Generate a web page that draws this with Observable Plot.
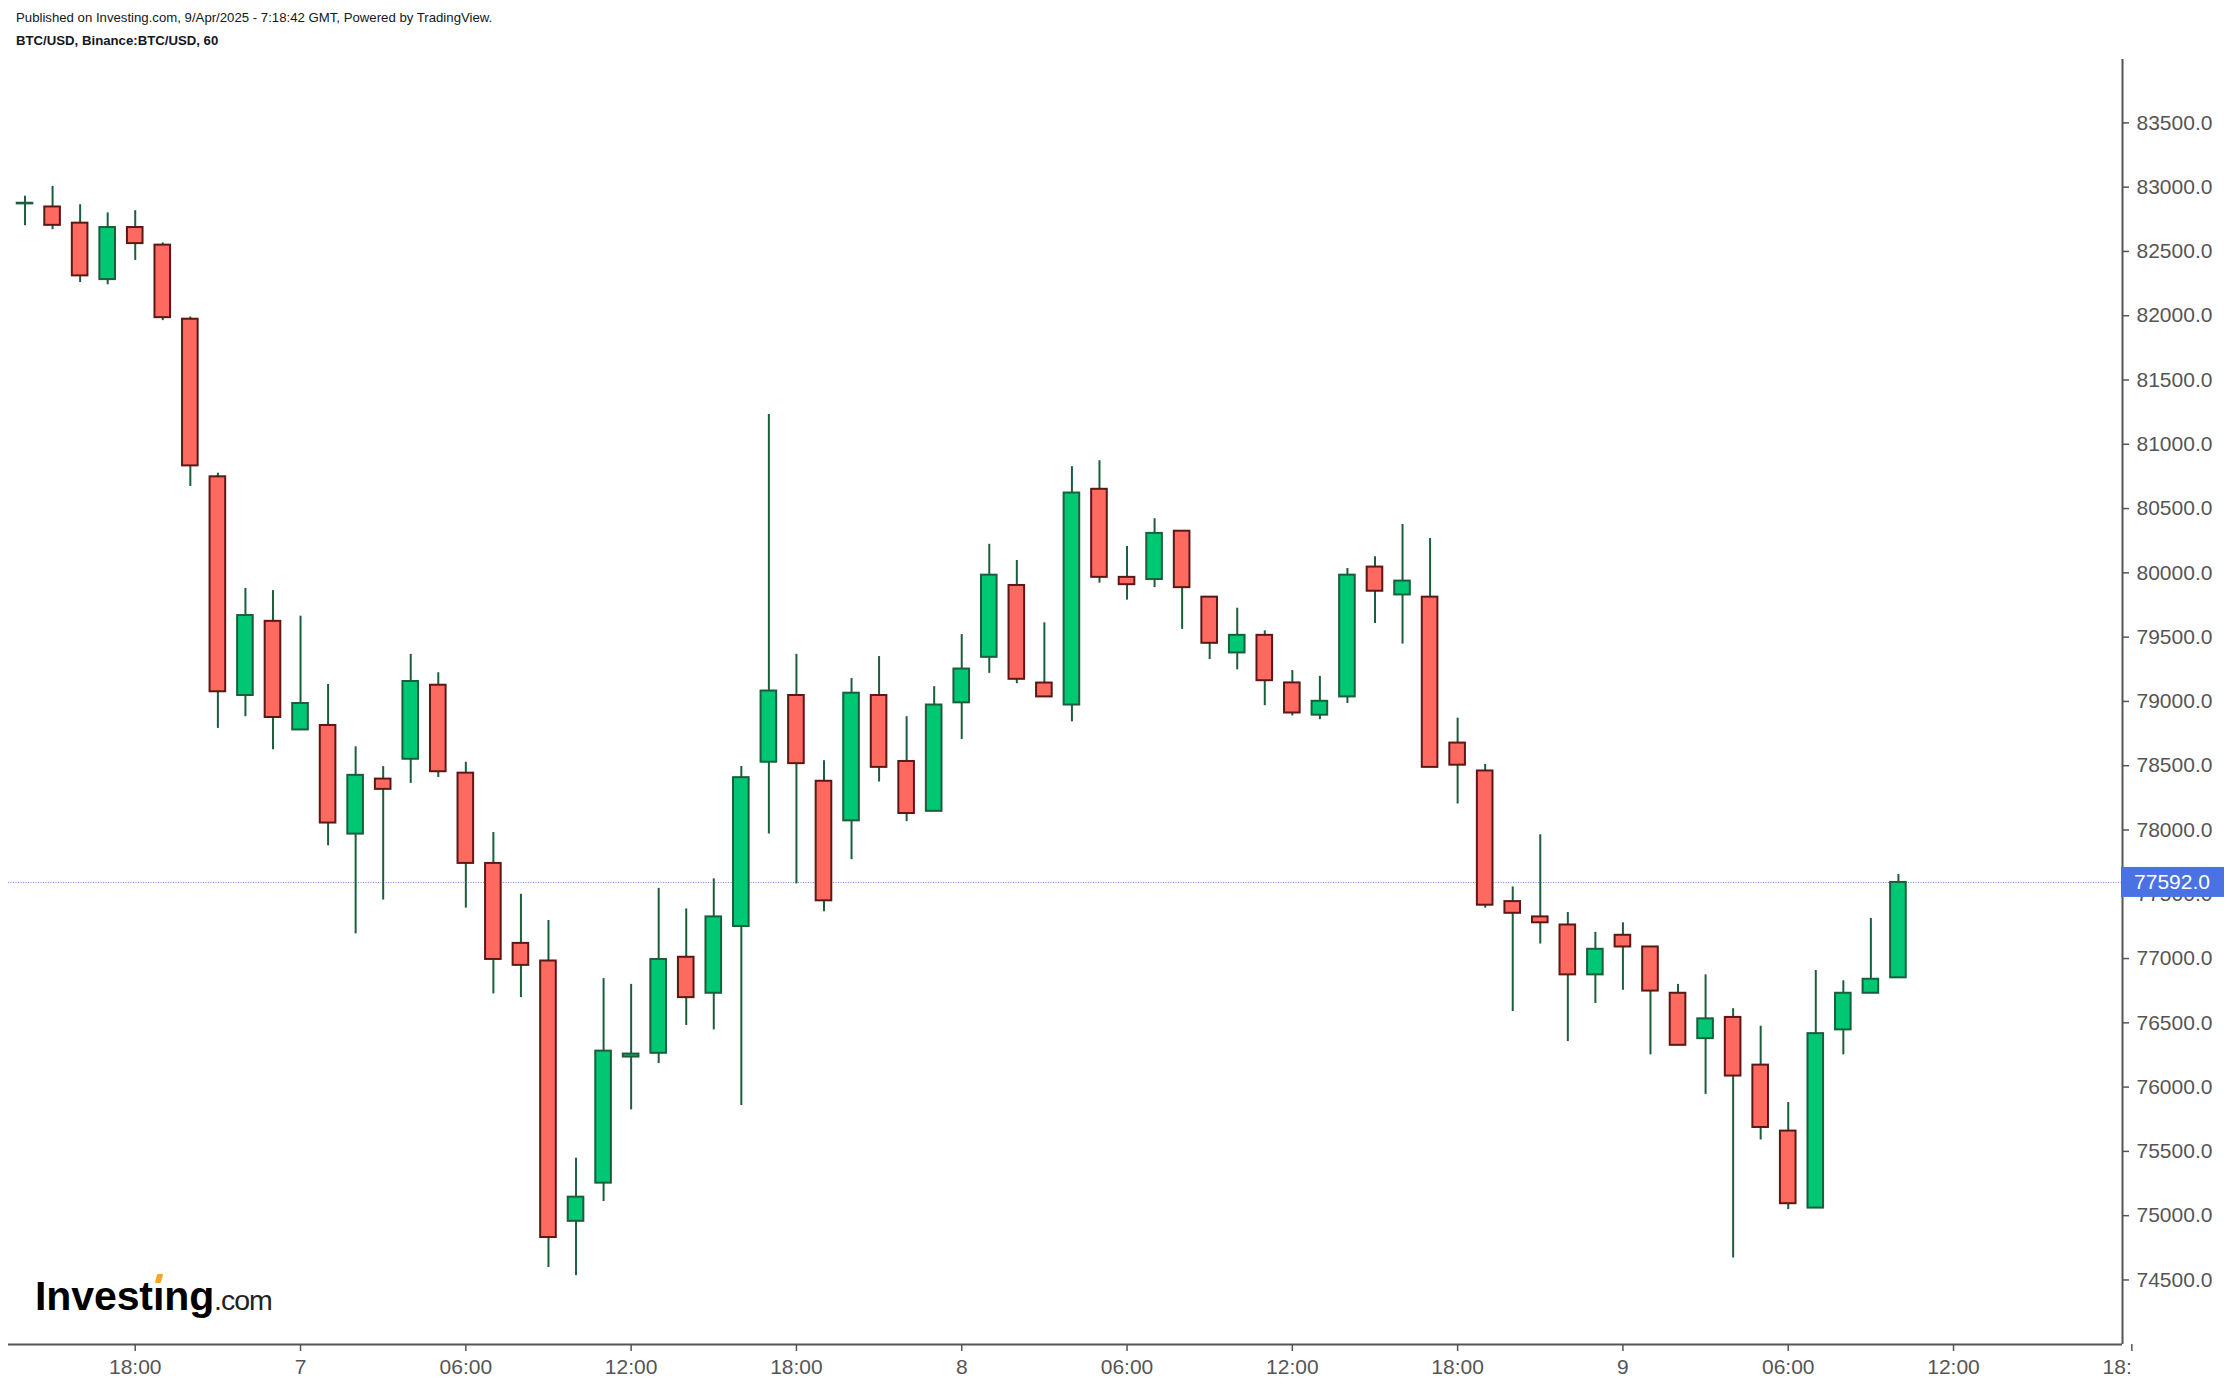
<!DOCTYPE html>
<html>
<head>
<meta charset="utf-8">
<script src="https://cdn.jsdelivr.net/npm/d3@7"></script>
<script src="https://cdn.jsdelivr.net/npm/@observablehq/plot@0.6"></script>
<style>
html, body { margin: 0; padding: 0; background: #fff; }
#wrap { position: relative; width: 2230px; height: 1386px; overflow: hidden; font-family: "Liberation Sans", Arial, sans-serif; }
#chart { position: absolute; left: 0; top: 0; }
.hdr { position: absolute; left: 16px; font-size: 13.2px; line-height: 1; color: #131722; white-space: nowrap; }
#pub { top: 10.5px; }
#sym { top: 34px; font-weight: bold; }
#logo { position: absolute; left: 35px; top: 1276px; white-space: nowrap; line-height: 1; color: #000; }
#logo .big { font-size: 41px; font-weight: bold; letter-spacing: -0.1px; }
#logo .small { font-size: 28.5px; letter-spacing: -1px; color: #222; }
#accent { position: absolute; left: 156px; top: 1274px; width: 6px; height: 9px; background: #f5a623; transform: skewX(-15deg); border-radius: 1px; }
</style>
</head>
<body>
<div id="wrap">
  <div id="chart"></div>
  <div class="hdr" id="pub">Published on Investing.com, 9/Apr/2025 - 7:18:42 GMT, Powered by TradingView.</div>
  <div class="hdr" id="sym">BTC/USD, Binance:BTC/USD, 60</div>
  <div id="logo"><span class="big">Investıng</span><span class="small">.com</span></div>
  <div id="accent"></div>
</div>
<script>
// ---- data (hourly candles, BTC/USD, Binance) ----
const firstCandle = "2025-04-06T14:00:00Z";
const opens  = [82870, 82846, 82720, 82281, 82686, 82549, 81973, 80747, 79046, 79623,
                78778, 78813, 77968, 78396, 78550, 79126, 78442, 77740, 77118, 76981,
                74956, 75253, 76234, 76263, 77010, 76730, 77249, 78527, 79046, 78379,
                78071, 79046, 78533, 78145, 78989, 79343, 79902, 79143, 78972, 80650,
                79965, 79948, 80324, 79811, 79377, 79514, 79144, 78893, 79035, 80045,
                79828, 79811, 78676, 78459, 77443, 77324, 77261, 76873, 77181, 77090,
                76730, 76377, 76542, 76171, 75658, 75059, 76445, 76730, 76850];
const highs  = [82930, 83006, 82863, 82800, 82817, 82566, 81990, 80775, 79879, 79862,
                79663, 79132, 78647, 78493, 79366, 79223, 78527, 77980, 77500, 77295,
                75447, 76844, 76799, 77546, 77386, 77620, 78493, 81231, 79366, 78539,
                79178, 79349, 78881, 79115, 79520, 80222, 80096, 79611, 80826, 80872,
                80205, 80421, 80324, 79811, 79725, 79549, 79240, 79195, 80034, 80125,
                80376, 80267, 78870, 78510, 77557, 77963, 77358, 77204, 77278, 77090,
                76799, 76873, 76610, 76474, 75880, 76907, 76827, 77312, 77654];
const lows   = [82700, 82669, 82258, 82241, 82430, 81962, 80672, 78790, 78881, 78624,
                78778, 77877, 77192, 77455, 78362, 78408, 77392, 76725, 76696, 74596,
                74534, 75110, 75823, 76183, 76479, 76445, 75857, 77968, 77580, 77364,
                77769, 78373, 78065, 78145, 78704, 79218, 79138, 79035, 78841, 79920,
                79788, 79885, 79560, 79326, 79246, 78967, 78887, 78858, 78984, 79606,
                79446, 78487, 78202, 77392, 76588, 77113, 76354, 76650, 76753, 76251,
                76325, 75943, 74671, 75589, 75047, 75059, 76251, 76730, 76850];
const closes = [82875, 82703, 82310, 82686, 82561, 81985, 80832, 79075, 79668, 78875,
                78984, 78054, 78425, 78316, 79155, 78453, 77740, 76993, 76947, 74830,
                75144, 76280, 76257, 76993, 76696, 77324, 78407, 79081, 78516, 77449,
                79064, 78487, 78128, 78972, 79252, 79982, 79172, 79035, 80621, 79965,
                79908, 80307, 79885, 79452, 79514, 79161, 78910, 79001, 79982, 79857,
                79936, 78487, 78504, 77415, 77352, 77278, 76873, 77072, 77090, 76747,
                76325, 76531, 76086, 75686, 75093, 76416, 76730, 76839, 77592];
const lastPrice = 77592;
const yTicks = [74500, 75000, 75500, 76000, 76500, 77000, 77500, 78000, 78500, 79000,
                79500, 80000, 80500, 81000, 81500, 82000, 82500, 83000, 83500];
const xTickTimes = ["2025-04-06T18:00Z", "2025-04-07T00:00Z", "2025-04-07T06:00Z", "2025-04-07T12:00Z",
                    "2025-04-07T18:00Z", "2025-04-08T00:00Z", "2025-04-08T06:00Z", "2025-04-08T12:00Z",
                    "2025-04-08T18:00Z", "2025-04-09T00:00Z", "2025-04-09T06:00Z", "2025-04-09T12:00Z"];
const xClippedTick = "2025-04-09T18:00Z";
const xDomain = ["2025-04-06T13:24Z", "2025-04-09T18:08Z"];
const yDomain = [73998, 83993];

// ---- build table ----
const t0 = new Date(firstCandle);
const times = d3.utcHour.range(t0, d3.utcHour.offset(t0, opens.length));
const candles = times.map((date, i) => ({date, open: opens[i], high: highs[i], low: lows[i], close: closes[i]}));

const GREEN = "#00c774", RED = "#ff6a60", GREEN_EDGE = "#1b5e3c", RED_EDGE = "#5b1816", WICK = "#1b5e3c";
const fmtX = d => d.getUTCHours() === 0 ? String(d.getUTCDate()) : d3.utcFormat("%H:%M")(d);

const chart = Plot.plot({
  width: 2230,
  height: 1386,
  marginLeft: 8,
  marginRight: 108,
  marginTop: 59,
  marginBottom: 42,
  style: {fontFamily: "'Liberation Sans', Arial, sans-serif", fontSize: "21px", color: "#555", background: "#fff", overflow: "visible"},
  x: {type: "utc", domain: xDomain.map(s => new Date(s))},
  y: {domain: yDomain},
  marks: [
    Plot.ruleY([lastPrice], {stroke: "#6a8ae8", strokeWidth: 1, strokeDasharray: "1,1.5"}),
    Plot.ruleX(candles, {x: "date", y1: "low", y2: "high", stroke: WICK, strokeWidth: 2}),
    Plot.rect(candles, {
      x1: d => d3.utcMinute.offset(d.date, -17),
      x2: d => d3.utcMinute.offset(d.date, 17),
      y1: "open", y2: "close",
      fill: d => d.close >= d.open ? GREEN : RED,
      stroke: d => d.close >= d.open ? GREEN_EDGE : RED_EDGE,
      strokeWidth: 2
    }),
    Plot.ruleY([yDomain[0]], {stroke: "#555", strokeWidth: 2}),
    Plot.ruleX([new Date(xDomain[1])], {stroke: "#555", strokeWidth: 2}),
    Plot.axisX({ticks: xTickTimes.map(s => new Date(s)), tickFormat: fmtX, tickSize: 7, tickPadding: 8, stroke: "#555", strokeWidth: 1.5}),
    Plot.axisX({ticks: [new Date(xClippedTick)], tickFormat: () => "18:", textAnchor: "end", dx: 13, tickSize: 7, tickPadding: 8, stroke: "#555", strokeWidth: 1.5}),
    Plot.axisY({anchor: "right", ticks: yTicks, tickFormat: d3.format(".1f"), tickSize: 6, tickPadding: 8, stroke: "#555", strokeWidth: 1.5})
  ]
});
document.getElementById("chart").appendChild(chart);

// current price label on the price axis
const svg = d3.select(chart.tagName.toLowerCase() === "svg" ? chart : chart.querySelector("svg"));
const yPix = chart.scale("y").apply(lastPrice);
const xAxisPix = chart.scale("x").apply(new Date(xDomain[1]));
svg.append("rect").attr("x", xAxisPix - 1).attr("y", yPix - 15).attr("width", 103).attr("height", 30).attr("fill", "#4a72e3");
svg.append("text").attr("x", xAxisPix + 50).attr("y", yPix).attr("text-anchor", "middle").attr("dominant-baseline", "central")
  .attr("fill", "#fff").attr("font-size", 21).text(d3.format(".1f")(lastPrice));
</script>
</body>
</html>
